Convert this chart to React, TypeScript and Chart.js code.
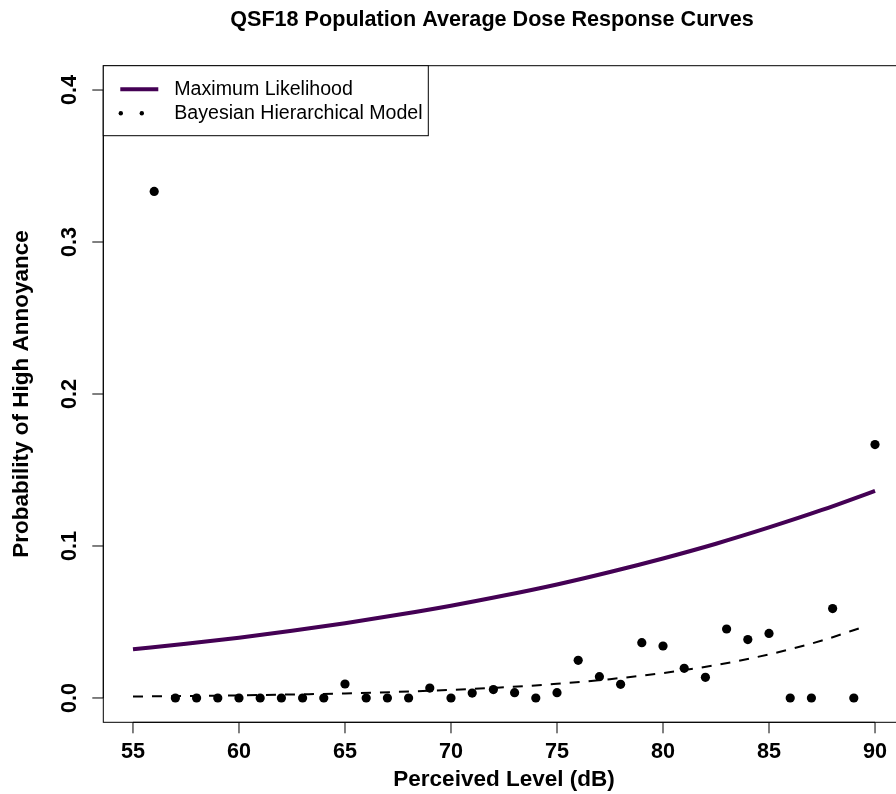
import React, { useEffect, useRef } from "react";
import { Chart, registerables } from "chart.js";

Chart.register(...registerables);

const TITLE = "QSF18 Population Average Dose Response Curves";
const X_LABEL = "Perceived Level (dB)";
const Y_LABEL = "Probability of High Annoyance";
const LEGEND_LABELS = ["Maximum Likelihood", "Bayesian Hierarchical Model"];

const xTicks = [55, 60, 65, 70, 75, 80, 85, 90];
const yTicks = [0, 0.1, 0.2, 0.3, 0.4];
const yTickLabels = ["0.0", "0.1", "0.2", "0.3", "0.4"];

const obsLevels = [
  56, 57, 58, 59, 60, 61, 62, 63, 64, 65, 66, 67, 68, 69, 70, 71, 72, 73,
  74, 75, 76, 77, 78, 79, 80, 81, 82, 83, 84, 85, 86, 87, 88, 89, 90,
];
const obsProportions = [
  0.3333, 0, 0, 0, 0, 0, 0, 0, 0, 0.0092, 0, 0, 0, 0.0065, 0, 0.0032,
  0.0055, 0.0035, 0, 0.0035, 0.0248, 0.014, 0.009, 0.0364, 0.0342, 0.0195,
  0.0136, 0.0454, 0.0384, 0.0425, 0, 0, 0.0588, 0, 0.1667,
];

const mlLevels = [55, 57.5, 60, 62.5, 65, 67.5, 70, 72.5, 75, 77.5, 80, 82.5, 85, 87.5, 90];
const mlProb = [
  0.032, 0.0357, 0.0397, 0.0442, 0.0492, 0.0547, 0.0607, 0.0674, 0.0747,
  0.0829, 0.0918, 0.1015, 0.1122, 0.1237, 0.1363,
];

const bayesLevels = [55, 57.5, 60, 62.5, 65, 67.5, 70, 72.5, 75, 77.5, 80, 82.5, 85, 87.5, 89.5];
const bayesProb = [
  0.001, 0.0013, 0.0017, 0.0023, 0.003, 0.004, 0.0053, 0.007, 0.0093,
  0.0124, 0.0164, 0.0217, 0.0287, 0.0378, 0.047,
];

const PURPLE = "#440154";
const FONT = "'Liberation Sans', Arial, Helvetica, sans-serif";

const decorPlugin = {
  id: "decor",
  afterDraw(chart: any) {
    const ctx = chart.ctx as CanvasRenderingContext2D;
    const { left, right, top, bottom } = chart.chartArea;
    const xs = chart.scales.x;
    const ys = chart.scales.y;
    ctx.save();
    ctx.strokeStyle = "#000";
    ctx.fillStyle = "#000";
    ctx.lineWidth = 1;

    // plot box
    ctx.strokeRect(left, top, right - left, bottom - top);

    // x axis
    const x0 = xs.getPixelForValue(xTicks[0]);
    const x1 = xs.getPixelForValue(xTicks[xTicks.length - 1]);
    ctx.beginPath();
    ctx.moveTo(x0, bottom);
    ctx.lineTo(x1, bottom);
    ctx.stroke();
    ctx.font = `bold 21.6px ${FONT}`;
    ctx.textAlign = "center";
    ctx.textBaseline = "alphabetic";
    xTicks.forEach((v) => {
      const px = xs.getPixelForValue(v);
      ctx.beginPath();
      ctx.moveTo(px, bottom);
      ctx.lineTo(px, bottom + 11);
      ctx.stroke();
      ctx.fillText(String(v), px, 758);
    });

    // y axis
    const y0 = ys.getPixelForValue(yTicks[0]);
    const y1 = ys.getPixelForValue(yTicks[yTicks.length - 1]);
    ctx.beginPath();
    ctx.moveTo(left, y0);
    ctx.lineTo(left, y1);
    ctx.stroke();
    yTicks.forEach((v, i) => {
      const py = ys.getPixelForValue(v);
      ctx.beginPath();
      ctx.moveTo(left, py);
      ctx.lineTo(left - 11, py);
      ctx.stroke();
      ctx.save();
      ctx.translate(76, py);
      ctx.rotate(-Math.PI / 2);
      ctx.textAlign = "center";
      ctx.fillText(yTickLabels[i], 0, 0);
      ctx.restore();
    });

    // axis titles
    ctx.font = `bold 22.5px ${FONT}`;
    ctx.textAlign = "center";
    ctx.fillText(X_LABEL, (left + right) / 2, 786);
    ctx.save();
    ctx.translate(28, (top + bottom) / 2);
    ctx.rotate(-Math.PI / 2);
    ctx.fillText(Y_LABEL, 0, 0);
    ctx.restore();

    // main title
    ctx.font = `bold 21.6px ${FONT}`;
    ctx.fillText(TITLE, 492, 26);

    // legend
    const lx = left;
    const ly = top;
    const lw = 325;
    const lh = 70;
    ctx.fillStyle = "#fff";
    ctx.fillRect(lx, ly, lw, lh);
    ctx.strokeStyle = "#000";
    ctx.strokeRect(lx, ly, lw, lh);
    ctx.strokeStyle = PURPLE;
    ctx.lineWidth = 4;
    ctx.beginPath();
    ctx.moveTo(lx + 17, ly + 23.5);
    ctx.lineTo(lx + 55, ly + 23.5);
    ctx.stroke();
    ctx.fillStyle = "#000";
    [lx + 17.5, lx + 38.5].forEach((dx) => {
      ctx.beginPath();
      ctx.arc(dx, ly + 47.5, 2.2, 0, Math.PI * 2);
      ctx.fill();
    });
    ctx.font = `19.6px ${FONT}`;
    ctx.textAlign = "left";
    ctx.textBaseline = "middle";
    ctx.fillText(LEGEND_LABELS[0], lx + 71, ly + 24);
    ctx.fillText(LEGEND_LABELS[1], lx + 71, ly + 48);
    ctx.restore();
  },
};

export default function App() {
  const canvasRef = useRef<HTMLCanvasElement | null>(null);

  useEffect(() => {
    if (!canvasRef.current) return;
    const chart = new Chart(canvasRef.current, {
      type: "scatter",
      data: {
        datasets: [
          {
            label: LEGEND_LABELS[0],
            data: mlLevels.map((x, i) => ({ x, y: mlProb[i] })),
            showLine: true,
            borderColor: PURPLE,
            backgroundColor: PURPLE,
            borderWidth: 4,
            pointRadius: 0,
            cubicInterpolationMode: "monotone",
          } as any,
          {
            label: LEGEND_LABELS[1],
            data: bayesLevels.map((x, i) => ({ x, y: bayesProb[i] })),
            showLine: true,
            borderColor: "#000",
            backgroundColor: "#000",
            borderWidth: 2,
            borderDash: [10, 9],
            pointRadius: 0,
            cubicInterpolationMode: "monotone",
          } as any,
          {
            label: "Observed",
            data: obsLevels.map((x, i) => ({ x, y: obsProportions[i] })),
            showLine: false,
            pointRadius: 4.6,
            pointBackgroundColor: "#000",
            pointBorderWidth: 0,
            borderColor: "#000",
          } as any,
        ],
      },
      options: {
        responsive: false,
        animation: false,
        devicePixelRatio: 1,
        layout: {
          padding: { left: 103.3, top: 65.7, right: 920 - 904.7, bottom: 794 - 722.3 },
        },
        scales: {
          x: { type: "linear", min: 53.6, max: 91.4, display: false },
          y: { type: "linear", min: -0.016, max: 0.416, display: false },
        },
        plugins: {
          legend: { display: false },
          tooltip: { enabled: false },
          title: { display: false },
        },
      },
      plugins: [decorPlugin],
    });
    return () => chart.destroy();
  }, []);

  return (
    <div
      style={{
        position: "fixed",
        left: 0,
        top: 0,
        width: 896,
        height: 794,
        overflow: "hidden",
        background: "#fff",
      }}
    >
      <canvas ref={canvasRef} width={920} height={794} style={{ display: "block" }} />
    </div>
  );
}
